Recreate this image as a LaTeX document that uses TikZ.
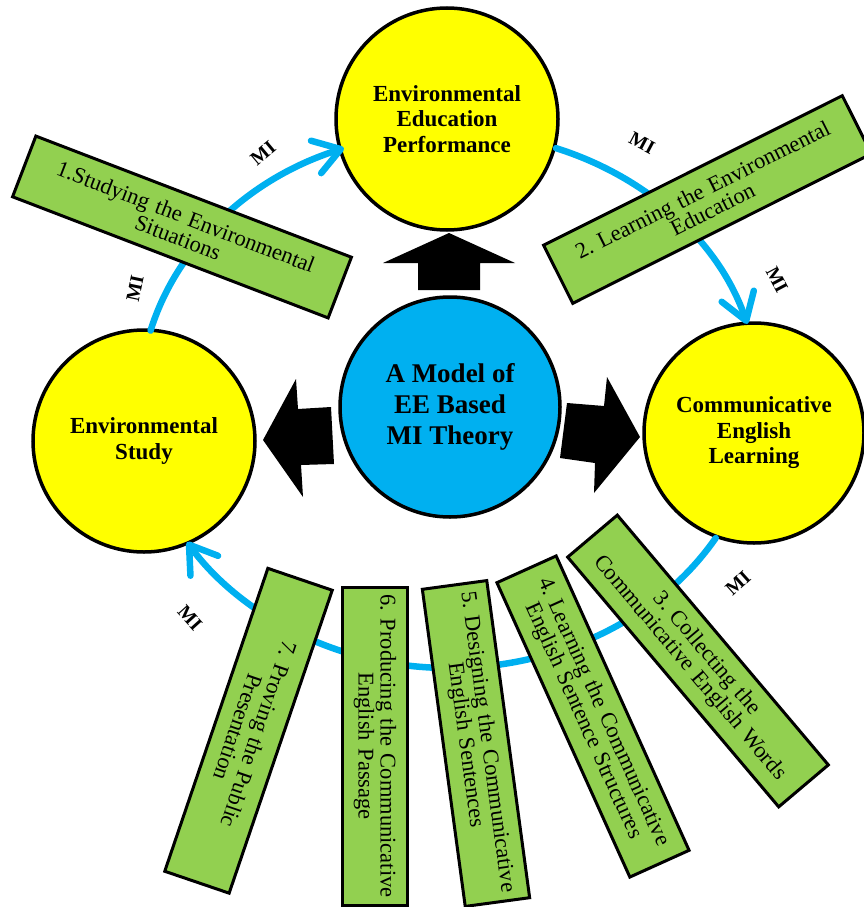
\documentclass[tikz,border=0pt]{standalone}
\usepackage{fontspec}
\setmainfont{Liberation Serif}
\usetikzlibrary{arrows.meta}
\definecolor{yel}{HTML}{FFFF00}
\definecolor{skyb}{HTML}{00B0F0}
\definecolor{grn}{HTML}{92D050}
\frenchspacing
\begin{document}
\begin{tikzpicture}[x=1pt,y=1pt,
  bigcirc/.style={circle,draw=black,line width=3.5pt,fill=yel,minimum size=222pt,inner sep=0pt,align=center,font=\fontsize{23}{25.5}\selectfont\bfseries},
  core/.style={bigcirc,fill=skyb,font=\fontsize{27}{31}\selectfont\bfseries},
  taskbox/.style={draw=black,line width=3pt,fill=grn,inner sep=0pt,minimum height=65pt,align=center,font=\fontsize{22.5}{22}\selectfont},
  ring/.style={draw=skyb,line width=6.5pt,line cap=round,-{Straight Barb[length=26pt,width=34pt,round]}},
  milab/.style={font=\fontsize{19.5}{19.5}\selectfont\bfseries,inner sep=0pt},
  blockarrow/.style={fill=black,draw=none}
]
\useasboundingbox (0,0) rectangle (864,-907);
\clip (0,0) rectangle (864,-907);

% circles
\node[bigcirc] (eep) at (447,-119) {Environmental\\Education\\Performance};
\node[bigcirc] (es) at (144,-441) {Environmental\\Study};
\node[bigcirc,minimum size=220pt] (cel) at (754,-433) {Communicative\\English\\Learning};
\node[core,minimum size=220pt] (core) at (450,-407) {A Model of\\EE Based\\MI Theory};

% block arrows
\path[blockarrow] (449,-233) -- (515,-263) -- (480,-263) -- (480,-290) -- (418,-290) -- (418,-263) -- (383,-263) -- cycle;
\path[blockarrow] (263,-440) -- (296,-379) -- (298,-409) -- (331,-407) -- (334,-464) -- (301,-465) -- (303,-497) -- cycle;
\path[blockarrow] (640,-437) -- (607,-377) -- (604,-406) -- (567,-403) -- (560,-458) -- (595,-463) -- (594,-493) -- cycle;

% ring
\coordinate (rc) at (450,-400);
\draw[ring] ([shift={(165:310 and 268)}]rc) arc[start angle=165,end angle=110,x radius=310,y radius=268];
\draw[ring] ([shift={(70:310 and 268)}]rc) arc[start angle=70,end angle=16.5,x radius=310,y radius=268];
\draw[ring] ([shift={(-31:310 and 268)}]rc) arc[start angle=-31,end angle=-148,x radius=310,y radius=268];

% task boxes
\node[taskbox,minimum width=338pt,text width=330pt,rotate=-21] (t1) at (182,-227) {1.Studying the Environmental\\Situations};
\node[taskbox,minimum width=334pt,text width=326pt,rotate=26.6] (t2) at (707.5,-199.5) {2. Learning the Environmental\\Education};
\node[taskbox,minimum width=327pt,text width=319pt,rotate=-49.8] (t3) at (698,-661) {3. Collecting the\\Communicative English Words};
\node[taskbox,minimum width=323pt,text width=315pt,rotate=-65.7] (t4) at (593,-716.5) {4. Learning the Communicative\\English Sentence Structures};
\node[taskbox,minimum width=320pt,text width=312pt,rotate=-82.3] (t5) at (476,-743.5) {5. Designing the Communicative\\English Sentences};
\node[taskbox,minimum width=318pt,text width=312pt,rotate=-90] (t6) at (375,-746) {6. Producing the Communicative\\English Passage};
\node[taskbox,minimum width=320pt,minimum height=68pt,text width=312pt,rotate=-108.8] (t7) at (248.5,-730.75) {7. Proving the Public\\Presentation};

% MI labels
\node[milab,rotate=40] (mi1) at (263,-153) {MI};
\node[milab,rotate=78] (mi2) at (135,-288) {MI};
\node[milab,rotate=-28] (mi3) at (642,-143) {MI};
\node[milab,rotate=-62] (mi4) at (777,-280) {MI};
\node[milab,rotate=42] (mi5) at (738,-583) {MI};
\node[milab,rotate=-48] (mi6) at (190,-618) {MI};
\end{tikzpicture}
\end{document}
